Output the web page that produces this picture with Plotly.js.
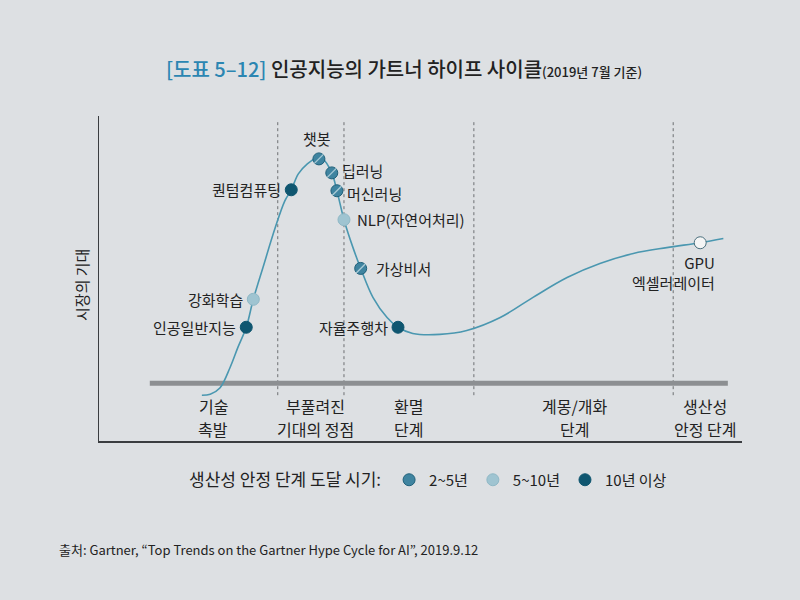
<!DOCTYPE html>
<html>
<head>
<meta charset="utf-8">
<script src="https://cdn.plot.ly/plotly-3.0.1.min.js"></script>
<style>html,body{margin:0;padding:0;background:#dde0e3;}</style>
</head>
<body>
<div id="chart" style="width:800px;height:600px;"></div>
<script>
// Hype curve (x = time, y = expectation)
const curveX = [16.0,17.3,18.8,20.4,21.6,22.9,24.0,25.5,27.4,28.9,29.9,31.0,32.4,33.9,34.8,36.2,37.0,38.1,39.5,40.7,42.6,44.8,46.5,48.8,53.0,57.2,62.4,67.5,72.8,77.9,83.1,88.3,93.5,97.1];
const curveY = [14.1,14.4,16.3,22.7,28.8,35.0,43.6,53.4,65.6,73.9,77.3,82.2,85.3,87.1,86.8,82.5,77.0,68.1,59.5,53.1,44.2,38.0,35.0,33.1,32.8,34.0,38.0,44.2,50.3,54.6,57.7,59.5,61.0,62.3];

// Technologies
const techNames = ["인공일반지능","강화학습","퀀텀컴퓨팅","챗봇","딥러닝","머신러닝","NLP(자연어처리)","가상비서","자율주행차","GPU<br>엑셀러레이터"];
const techX = [22.9,24.0,29.9,34.2,36.2,37.0,38.1,40.7,46.5,93.5];
const techY = [35.0,43.6,77.3,86.8,82.5,77.0,68.1,53.1,35.0,61.0];
const techGroup = ["10+","5-10","10+","2-5","2-5","2-5","5-10","2-5","10+","plateau"];

// Phases
const phaseLine1 = ["기술","부풀려진","환멸","계몽/개화","생산성"];
const phaseLine2 = ["촉발","기대의 정점","단계","단계","안정 단계"];
const phaseCenters = [17.8,33.6,48.1,74.0,94.3];
const phaseBounds = [27.8,38.1,58.3,89.3];

const groupNames = {"2-5":"2~5년","5-10":"5~10년","10+":"10년 이상"};
const groupOrder = ["2-5","5-10","10+"];

const FONT = '"Noto Sans CJK KR", "Noto Sans", sans-serif';
const colDark = '#0f5670', colLight = '#9fc4d1', colHatch = '#3f84a0', curveCol = '#4a97b0';

function sel(g){ const idx=[]; techGroup.forEach((v,i)=>{ if(v===g) idx.push(i); }); return idx; }

const traces = [];
traces.push({x:curveX, y:curveY, mode:'lines', line:{color:curveCol, width:1.6, shape:'spline', smoothing:1}, showlegend:false, hoverinfo:'skip'});

const styles = {
  "2-5":{color:colHatch, line:{color:'#1f607a', width:1}},
  "5-10":{color:colLight, line:{color:'#8fb8c6', width:1}},
  "10+":{color:colDark, line:{color:colDark, width:1}}
};
groupOrder.forEach(g=>{
  const idx = sel(g);
  traces.push({x:idx.map(i=>techX[i]), y:idx.map(i=>techY[i]), mode:'markers', name:groupNames[g],
    marker:Object.assign({size:12, symbol:'circle'}, styles[g]), text:idx.map(i=>techNames[i]), hoverinfo:'text'});
  if(g==="2-5"){
    traces.push({x:idx.map(i=>techX[i]), y:idx.map(i=>techY[i]), mode:'markers', showlegend:false, hoverinfo:'skip',
      marker:{symbol:'line-ne', size:9, line:{color:'#a9cad6', width:1.3}}});
  }
});
const pIdx = sel("plateau");
traces.push({x:pIdx.map(i=>techX[i]), y:pIdx.map(i=>techY[i]), mode:'markers', showlegend:false,
  marker:{size:12, color:'#f4f5f5', line:{color:'#4a6f7d', width:1}}, hoverinfo:'skip'});

// label placement per technology
const labelPos = ["left","left","left","top","right","right","right","right","left","bottom"];
const annotations = [];
techNames.forEach((t,i)=>{
  const a = {x:techX[i], y:techY[i], xref:'x', yref:'y', text:t, showarrow:false, borderpad:0, font:{family:FONT, size:15, color:'#222'}};
  const p = labelPos[i];
  if(p==='left'){ a.xanchor='right'; a.yanchor='middle'; a.xshift=-9; }
  else if(p==='right'){ a.xanchor='left'; a.yanchor='middle'; a.xshift= (i===6?12:(i===7?14:9)); }
  else if(p==='top'){ a.xanchor='center'; a.yanchor='bottom'; a.yshift=9; a.xshift=-2; }
  else { a.xanchor='right'; a.yanchor='top'; a.align='right'; a.yshift=-8; a.xshift=16; }
  if(i===4) a.yshift=2;
  if(i===5) a.yshift=-3;
  annotations.push(a);
});
phaseLine1.forEach((p,i)=>{
  annotations.push({x:phaseCenters[i], y:0.107, xref:'x', yref:'paper', text:p, showarrow:false, borderpad:0,
    xanchor:'center', yanchor:'middle', font:{family:FONT, size:16, color:'#222'}});
  annotations.push({x:phaseCenters[i], y:0.037, xref:'x', yref:'paper', text:phaseLine2[i], showarrow:false, borderpad:0,
    xanchor:'center', yanchor:'middle', font:{family:FONT, size:16, color:'#222'}});
});
annotations.push({x:-0.027, y:0.479, xref:'paper', yref:'paper', text:'시장의 기대', textangle:-90, showarrow:false,
  xanchor:'center', yanchor:'middle', font:{family:FONT, size:15, color:'#222'}});
annotations.push({x:-0.066, y:-0.334, xref:'paper', yref:'paper', text:'출처: Gartner, “Top Trends on the Gartner Hype Cycle for AI”, 2019.9.12',
  showarrow:false, xanchor:'left', yanchor:'middle', font:{family:FONT, size:13, color:'#222'}});

const shapes = [];
phaseBounds.forEach(b=>{
  shapes.push({type:'line', xref:'x', yref:'y', x0:b, x1:b, y0:14.1, y1:98.5, line:{color:'#6c6f72', width:1, dash:'dot'}, layer:'below'});
});
shapes.push({type:'line', xref:'x', yref:'y', x0:7.9, x1:97.8, y0:17.8, y1:17.8, line:{color:'#8c8f92', width:5}, layer:'below'});

const layout = {
  width:800, height:600,
  paper_bgcolor:'#dde0e3', plot_bgcolor:'rgba(0,0,0,0)',
  margin:{l:99, r:58, t:116, b:159},
  title:{text:"<span style='color:#2b86b2'>[도표 5–12]</span> 인공지능의 가트너 하이프 사이클<span style='font-size:13px'>(2019년 7월 기준)</span>",
    x:0.505, xanchor:'center', y:0.883, yanchor:'middle', font:{family:FONT, size:20, color:'#222', weight:500}},
  xaxis:{range:[0,100], showgrid:false, zeroline:false, showticklabels:false, ticks:'', showline:true, linecolor:'#3a3d40', linewidth:1.5, fixedrange:true},
  yaxis:{range:[0,100], showgrid:false, zeroline:false, showticklabels:false, ticks:'', showline:true, linecolor:'#3a3d40', linewidth:1.5, fixedrange:true},
  showlegend:true,
  legend:{orientation:'h', x:0.137, y:-0.12, xanchor:'left', yanchor:'middle', bgcolor:'rgba(0,0,0,0)',
    title:{text:'생산성 안정 단계 도달 시기:', side:'left', font:{family:FONT, size:17, color:'#222'}},
    font:{family:FONT, size:15, color:'#222'}, itemwidth:30, tracegroupgap:0},
  annotations:annotations, shapes:shapes
};
Plotly.newPlot('chart', traces, layout, {displayModeBar:false, staticPlot:true});
</script>
</body>
</html>
